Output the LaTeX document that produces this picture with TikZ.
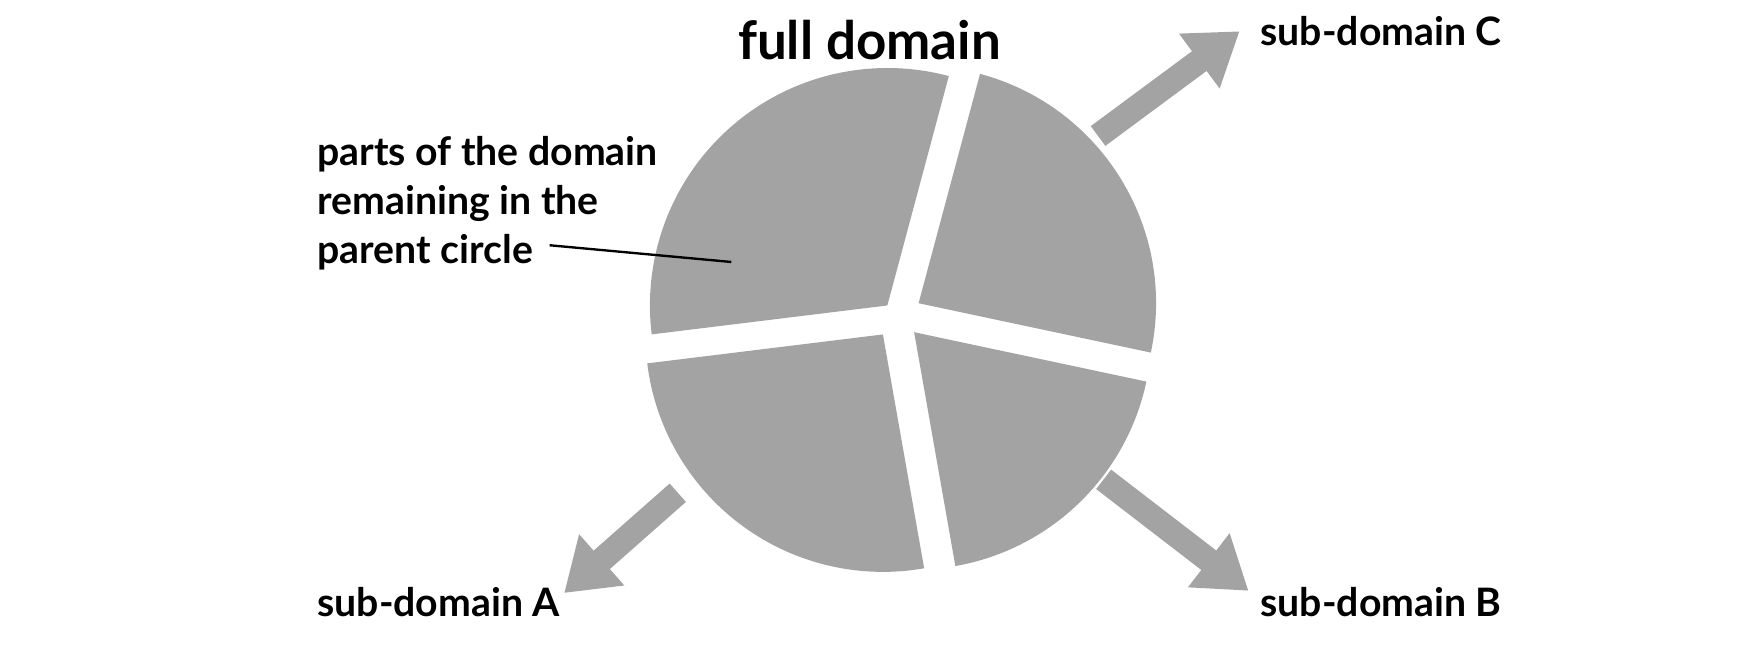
\documentclass[tikz,border=0pt]{standalone}
\usepackage{fontspec}
\setmainfont{Lato}
\usetikzlibrary{arrows.meta}
\definecolor{piece}{RGB}{163,163,163}
\tikzset{
  sector/.style={fill=piece, draw=none},
  split/.style={piece, line width=0.22cm, -{Triangle[length=0.45cm, width=0.58cm]}},
  lbl/.style={font=\fontsize{10}{15}\selectfont\bfseries, anchor=west, align=left, inner sep=0pt}
}
\begin{document}
\begin{tikzpicture}[x=0.01cm, y=-0.01cm]
\useasboundingbox (0,0) rectangle (1568,588);
% parent circle, cut in four (y runs down, so angles are negated)
\fill[sector] (796,274) -- ++(-75:213) arc[start angle=-75, end angle=-187, radius=213] -- cycle;
\fill[sector] (824,272) -- ++(12:213) arc[start angle=12, end angle=-75, radius=213] -- cycle;
\fill[sector] (820,298) -- ++(80:213) arc[start angle=80, end angle=12, radius=213] -- cycle;
\fill[sector] (792,300) -- ++(-187:213) arc[start angle=-187, end angle=-280, radius=213] -- cycle;

% labels
\node[font=\fontsize{13.5}{16}\selectfont\bfseries, inner sep=0pt] (full) at (780,36) {full domain};
\node[lbl] (subC) at (1130,28) {sub-domain C};
\node[lbl] (subB) at (1130,540) {sub-domain B};
\node[lbl] (subA) at (284,540) {sub-domain A};
\node[lbl, font=\fontsize{10}{12.5}\selectfont\bfseries] (parts) at (284,182) {parts of the domain\\remaining in the\\parent circle};

% arrows to the sub-domains
\coordinate (fromC) at (985,122);
\coordinate (fromB) at (990,430);
\coordinate (fromA) at (608,442);
\draw[split] (fromC) -- (1112,28);
\draw[split] (fromB) -- (1120,530);
\draw[split] (fromA) -- (506,532);

% leader
\coordinate (tip) at (656,235);
\draw[line width=0.6pt] (493,220) -- (tip);
\end{tikzpicture}
\end{document}
